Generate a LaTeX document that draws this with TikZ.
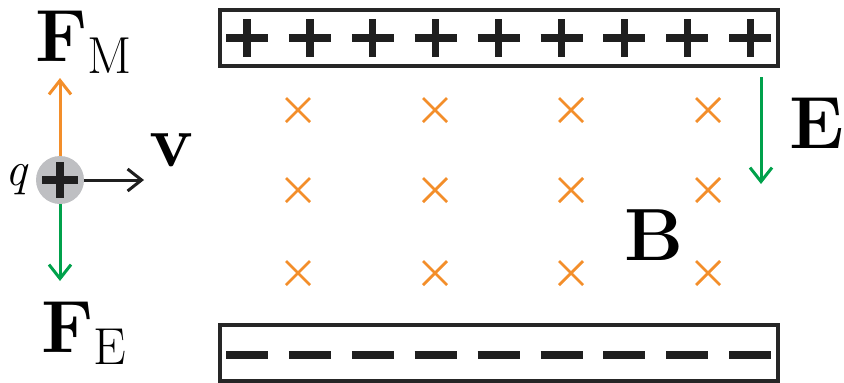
\documentclass[tikz,border=0pt]{standalone}
\usetikzlibrary{arrows.meta,positioning}

\definecolor{borange}{RGB}{243,142,42}
\definecolor{egreen}{RGB}{0,161,75}
\definecolor{qgray}{RGB}{190,191,194}

\tikzset{
  vec/.style={line width=1.5pt,-{Straight Barb[length=7pt,width=11pt,line width=1.5pt]}},
  plate/.style={draw=black!85,line width=2pt,minimum width=279pt,minimum height=28pt,inner sep=0pt},
  charge/.style={line width=3.6pt,black!88},
  bcross/.style={borange,line width=1.4pt},
  biglabel/.style={font=\fontsize{37}{40}\selectfont\bfseries,inner sep=0pt}
}
\newcommand{\sublab}[1]{\raisebox{-6pt}{\fontsize{26}{28}\selectfont\mdseries #1}}

\begin{document}
\begin{tikzpicture}[x=0.5pt,y=-0.5pt]
\useasboundingbox (0,0) rectangle (844,382);

% plates
\node[plate] (top) at (499,38) {};
\node[plate] (bot) at (499,353) {};
\foreach \i in {0,...,8} {
  \draw[charge] (247+62.9*\i-21,38) -- (247+62.9*\i+21,38);
  \draw[charge] (247+62.9*\i,38-19) -- (247+62.9*\i,38+19);
  \draw[charge] (247+62.9*\i-21,355) -- (247+62.9*\i+21,355);
}

% magnetic field into the page
\foreach \x in {298,435,571,708}
  \foreach \y in {110,190,273}
    \draw[bcross] (\x-12,\y-12) -- (\x+12,\y+12) (\x-12,\y+12) -- (\x+12,\y-12);

% the charge
\node[circle,fill=qgray,minimum size=24pt,inner sep=0pt] (q) at (60,180) {};
\draw[line width=4pt,black!88] (q.center) ++(-18,0) -- ++(36,0) (q.center) ++(0,-18) -- ++(0,36);
\node[left=4pt of q,font=\fontsize{24}{28}\selectfont\itshape,inner sep=0pt] (qlab) {q};

\coordinate (fmtip) at (60,78);
\coordinate (fetip) at (60,281);
\coordinate (vtip) at (144,180);
\draw[vec,borange] (q.north) -- (fmtip);
\draw[vec,egreen] (q.south) -- (fetip);
\draw[vec,black!88] (q.east) -- (vtip);

\node[biglabel,anchor=base west] (fm) at (35,61) {F\sublab{M}};
\node[biglabel,anchor=base west] (fe) at (41,352) {F\sublab{E}};
\node[biglabel,anchor=base] (v) at (171,166) {v};

% electric field
\coordinate (etop) at (761,77);
\coordinate (ebot) at (761,184);
\draw[vec,egreen] (etop) -- (ebot);
\node[biglabel,anchor=base west] (elab) at (789,148) {E};
\node[biglabel,anchor=base west] (blab) at (624,260) {B};

\end{tikzpicture}
\end{document}
